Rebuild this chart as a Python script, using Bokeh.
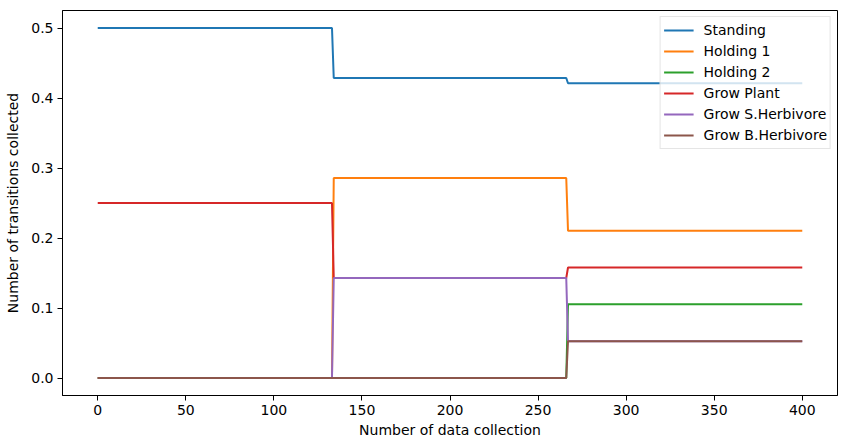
from bokeh.plotting import figure
from bokeh.models import FixedTicker, PrintfTickFormatter, Range1d, Legend, LegendItem
from bokeh.embed import file_html
from bokeh.resources import INLINE

x = [0, 133, 134, 266, 267, 400]
standing = [0.5, 0.5, 0.4286, 0.4286, 0.4211, 0.4211]
holding1 = [0.0, 0.0, 0.2857, 0.2857, 0.2105, 0.2105]
holding2 = [0.0, 0.0, 0.0, 0.0, 0.1053, 0.1053]
grow_plant = [0.25, 0.25, 0.1429, 0.1429, 0.1579, 0.1579]
grow_s_herb = [0.0, 0.0, 0.1429, 0.1429, 0.0526, 0.0526]
grow_b_herb = [0.0, 0.0, 0.0, 0.0, 0.0526, 0.0526]

names = ["Standing", "Holding 1", "Holding 2", "Grow Plant", "Grow S.Herbivore", "Grow B.Herbivore"]
series = [standing, holding1, holding2, grow_plant, grow_s_herb, grow_b_herb]
colors = ["#1f77b4", "#ff7f0e", "#2ca02c", "#d62728", "#9467bd", "#8c564b"]
x_ticks = [0, 50, 100, 150, 200, 250, 300, 350, 400]
y_ticks = [0.0, 0.1, 0.2, 0.3, 0.4, 0.5]

FONT = "DejaVu Sans"

p = figure(width=838, height=440, output_backend="svg", toolbar_location=None,
           x_range=Range1d(-20, 420), y_range=Range1d(-0.025, 0.525),
           min_border_left=62, min_border_right=1, min_border_top=10, min_border_bottom=45)

items = []
for name, ys, c in zip(names, series, colors):
    r = p.line(x, ys, line_color=c, line_width=2)
    items.append(LegendItem(label=name, renderers=[r]))

legend = Legend(items=items, location="top_right")
legend.label_text_font = FONT
legend.label_text_font_size = "14px"
legend.label_text_color = "black"
legend.glyph_width = 30
legend.glyph_height = 20
legend.label_height = 20
legend.label_standoff = 10
legend.spacing = 1
legend.padding = 3
legend.margin = 6
legend.border_line_color = "#cccccc"
legend.background_fill_alpha = 0.8
p.add_layout(legend)

p.xgrid.visible = False
p.ygrid.visible = False
p.outline_line_color = "black"
p.outline_line_alpha = 1.0
p.outline_line_width = 1

for ax in (p.xaxis[0], p.yaxis[0]):
    ax.major_tick_in = 0
    ax.major_tick_out = 5
    ax.minor_tick_line_color = None
    ax.major_label_text_font = FONT
    ax.major_label_text_font_size = "14px"
    ax.major_label_text_color = "black"
    ax.axis_label_text_font = FONT
    ax.axis_label_text_font_size = "14px"
    ax.axis_label_text_font_style = "normal"
    ax.axis_label_text_color = "black"
    ax.axis_line_color = "black"
    ax.major_tick_line_color = "black"

p.xaxis[0].ticker = FixedTicker(ticks=x_ticks)
p.yaxis[0].ticker = FixedTicker(ticks=y_ticks)
p.yaxis[0].formatter = PrintfTickFormatter(format="%.1f")
p.xaxis[0].axis_label = "Number of data collection"
p.yaxis[0].axis_label = "Number of transitions collected"
p.xaxis[0].axis_label_standoff = 4
p.yaxis[0].axis_label_standoff = 7
p.xaxis[0].major_label_standoff = 4
p.yaxis[0].major_label_standoff = 4

open("out.html", "w").write(file_html(p, INLINE))
